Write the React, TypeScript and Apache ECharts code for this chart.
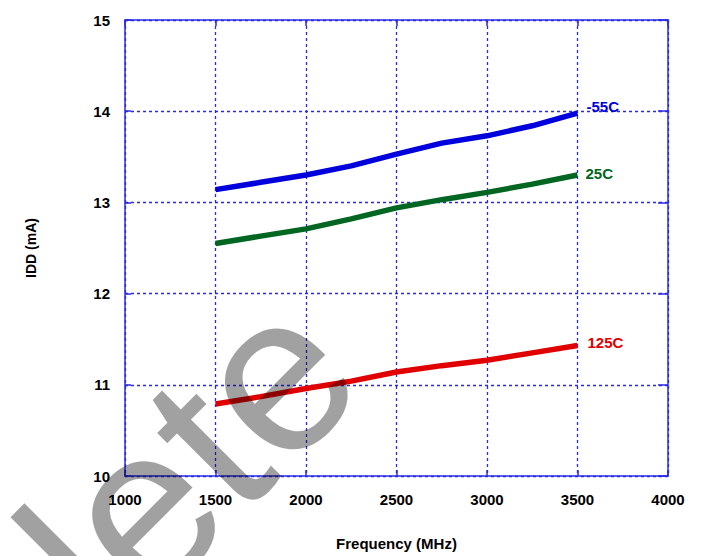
import React, { useEffect, useRef } from "react";
import * as echarts from "echarts";

const freqMHz = [1500, 1750, 2000, 2250, 2500, 2750, 3000, 3250, 3500];
const iddMinus55 = [13.14, 13.22, 13.3, 13.4, 13.53, 13.65, 13.73, 13.84, 13.98];
const idd25 = [12.55, 12.63, 12.71, 12.82, 12.94, 13.03, 13.11, 13.2, 13.3];
const idd125 = [10.79, 10.87, 10.96, 11.04, 11.14, 11.21, 11.27, 11.35, 11.43];
const seriesNames = ["-55C", "25C", "125C"];
const seriesColors = ["#0000dc", "#006622", "#e00000"];

const FONT = "'Liberation Sans', Arial, sans-serif";
const BLUE = "#2a2ae6";

export default function App() {
  const ref = useRef<HTMLDivElement>(null);
  useEffect(() => {
    if (!ref.current) return;
    const chart = echarts.init(ref.current, undefined, { renderer: "svg" });
    const pair = (ys: number[]) => freqMHz.map((f, i) => [f, ys[i]]);
    const datasets = [iddMinus55, idd25, idd125];
    const offsets = [[1, -7], [0, -2], [2, -3]];
    const labelStyle = { color: "#000", fontFamily: FONT, fontWeight: "bold" as const, fontSize: 15 };
    chart.setOption({
      animation: false,
      backgroundColor: "#fff",
      grid: { left: 125, right: 34, top: 20, bottom: 78 },
      xAxis: [
        {
          type: "value", min: 1000, max: 4000, interval: 500,
          name: "Frequency (MHz)", nameLocation: "middle", nameGap: 60,
          nameTextStyle: { ...labelStyle, fontSize: 15 },
          axisLine: { show: true, lineStyle: { color: BLUE, width: 1.5 } },
          axisTick: { show: true, inside: true, length: 6, lineStyle: { color: BLUE, width: 1.5 } },
          axisLabel: { ...labelStyle, margin: 16, formatter: (v: number) => String(v) },
          splitLine: { show: true, lineStyle: { color: BLUE, width: 1.3, type: [3, 3] } },
        },
        {
          type: "value", min: 1000, max: 4000, interval: 500, position: "top",
          axisLine: { show: true, lineStyle: { color: BLUE, width: 1.5 } },
          axisTick: { show: true, inside: true, length: 6, lineStyle: { color: BLUE, width: 1.5 } },
          axisLabel: { show: false }, splitLine: { show: false },
        },
      ],
      yAxis: [
        {
          type: "value", min: 10, max: 15, interval: 1,
          name: "IDD (mA)", nameLocation: "middle", nameGap: 87, nameRotate: 90,
          nameTextStyle: { ...labelStyle, fontSize: 14 },
          axisLine: { show: true, lineStyle: { color: BLUE, width: 1.5 } },
          axisTick: { show: true, inside: true, length: 6, lineStyle: { color: BLUE, width: 1.5 } },
          axisLabel: { ...labelStyle, margin: 15, formatter: (v: number) => String(v) },
          splitLine: { show: true, lineStyle: { color: BLUE, width: 1.3, type: [3, 3] } },
        },
        {
          type: "value", min: 10, max: 15, interval: 1, position: "right",
          axisLine: { show: true, lineStyle: { color: BLUE, width: 1.5 } },
          axisTick: { show: true, inside: true, length: 10, lineStyle: { color: BLUE, width: 1.5 } },
          axisLabel: { show: false }, splitLine: { show: false },
        },
      ],
      series: datasets.map((ys, i) => ({
        type: "line",
        name: seriesNames[i],
        data: pair(ys),
        showSymbol: false,
        smooth: false,
        lineStyle: { color: seriesColors[i], width: 5.5 },
        itemStyle: { color: seriesColors[i] },
        endLabel: {
          show: true,
          formatter: seriesNames[i],
          color: seriesColors[i],
          fontFamily: FONT,
          fontWeight: "bold",
          fontSize: 15,
          offset: offsets[i],
        },
        z: 3,
      })),
      graphic: [
        {
          type: "text",
          x: -2,
          y: 650,
          rotation: Math.PI / 4,
          z: 100,
          silent: true,
          style: {
            text: "Obsolete",
            font: `225px ${FONT}`,
            fill: "rgba(0,0,0,0.37)",
            align: "center",
            verticalAlign: "middle",
          },
        },
      ],
    });
    return () => chart.dispose();
  }, []);
  return (
    <div
      ref={ref}
      style={{ position: "absolute", left: 0, top: 0, width: 702, height: 556 }}
    />
  );
}
